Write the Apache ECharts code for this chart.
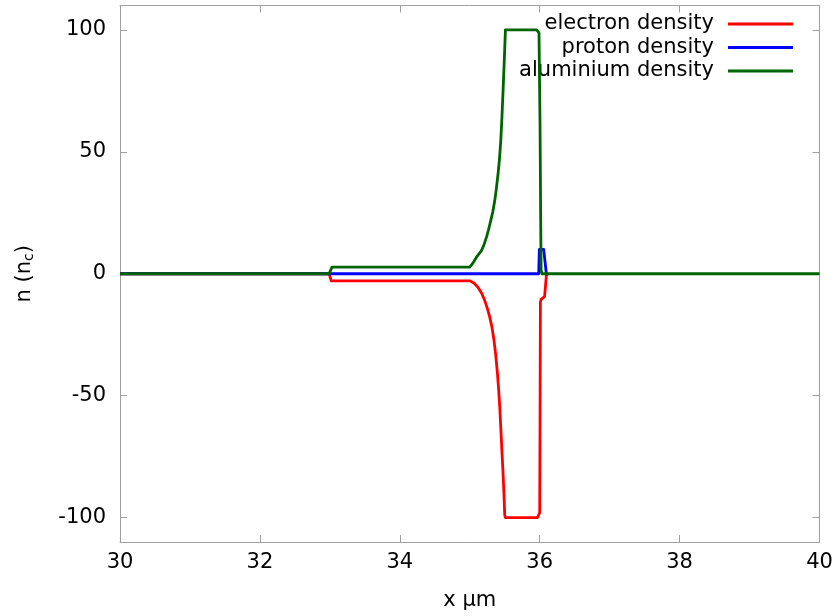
<!DOCTYPE html>
<html>
<head>
<meta charset="utf-8">
<script src="https://cdn.jsdelivr.net/npm/echarts@6/dist/echarts.min.js"></script>
<style>html,body{margin:0;padding:0;background:#fff}#c{width:838px;height:616px}</style>
</head>
<body>
<div id="c"></div>
<script>
var xTicks = [30, 32, 34, 36, 38, 40];
var yTicks = [-100, -50, 0, 50, 100];
var seriesNames = ['electron density', 'proton density', 'aluminium density'];

var electronDensity = [
  [30, 0], [32.99, 0], [33.02, -2.9], [35.0, -2.9], [35.06, -3.8], [35.119, -5.6],
  [35.17, -8.0], [35.214, -11.0], [35.255, -14.5], [35.286, -17.8], [35.318, -22.0],
  [35.347, -27.4], [35.372, -33.5], [35.396, -41.0], [35.413, -47.5], [35.429, -54.6],
  [35.452, -68.2], [35.476, -81.8], [35.49, -91.0], [35.5, -99], [35.51, -100],
  [35.967, -100], [36.0, -98], [36.005, -60], [36.01, -11.5], [36.02, -10.5],
  [36.039, -9.8], [36.07, -9.4], [36.095, -0.8], [36.11, 0]
];
var protonDensity = [
  [30, 0], [35.986, 0], [35.995, 10], [36.057, 10], [36.095, 0], [36.11, 0]
];
var aluminiumDensity = [
  [30, 0], [32.99, 0], [33.03, 2.7], [35.0, 2.7], [35.05, 4.6], [35.096, 6.8],
  [35.167, 9.5], [35.205, 12.0], [35.239, 15.0], [35.27, 18.2], [35.3, 21.8],
  [35.33, 25.5], [35.357, 29.9], [35.38, 34.8], [35.404, 40.8], [35.425, 47.0],
  [35.443, 54.4], [35.46, 64.0], [35.476, 74.8], [35.493, 87.0], [35.51, 100],
  [35.957, 100], [35.99, 98.8], [36.005, 60], [36.014, 22.4], [36.02, 1.6],
  [36.03, 0], [40, 0]
];

var font = 'DejaVu Sans';
var axisColor = '#a0a0a0';
var chart = echarts.init(document.getElementById('c'), null, {renderer: 'canvas'});

function mkX(show, pos) {
  return {
    type: 'value', position: pos, min: 30, max: 40, interval: 2,
    name: show ? 'x \u03bcm' : '', nameLocation: 'middle', nameGap: 48,
    nameTextStyle: {fontFamily: font, fontSize: 21, color: '#000'},
    axisLine: {show: true, onZero: false, lineStyle: {color: axisColor, width: 1}},
    axisTick: {show: true, inside: true, length: 7, lineStyle: {color: axisColor}},
    axisLabel: {show: show, margin: 10, fontFamily: font, fontSize: 21, color: '#000'},
    splitLine: {show: false}
  };
}
function mkY(show, pos) {
  return {
    type: 'value', position: pos, min: -110, max: 110, interval: 10,
    name: show ? 'n (n{sub|c})' : '', nameLocation: 'middle', nameGap: 84, nameRotate: 90,
    nameTextStyle: {fontFamily: font, fontSize: 21, color: '#000',
      rich: {sub: {fontFamily: font, fontSize: 14, color: '#000', padding: [9, 0, 0, 0]}}},
    axisLine: {show: true, onZero: false, lineStyle: {color: axisColor, width: 1}},
    axisTick: {show: true, inside: true, length: 7, customValues: yTicks, lineStyle: {color: axisColor}},
    axisLabel: {show: show, margin: 14, customValues: yTicks, fontFamily: font, fontSize: 21, color: '#000'},
    splitLine: {show: false}
  };
}

var colors = ['#ff0000', '#0000ff', '#006400'];
var datas = [electronDensity, protonDensity, aluminiumDensity];

chart.setOption({
  animation: false,
  backgroundColor: '#fff',
  grid: {left: 120, right: 18.5, top: 5.5, bottom: 71.5, containLabel: false},
  xAxis: [mkX(true, 'bottom'), mkX(false, 'top')],
  yAxis: [mkY(true, 'left'), mkY(false, 'right')],
  legend: {
    orient: 'vertical', align: 'right', right: 45, top: 13.5, padding: 0,
    itemWidth: 65, itemHeight: 3, itemGap: 2.5, icon: 'rect',
    textStyle: {fontFamily: font, fontSize: 21, color: '#000', lineHeight: 21, padding: [0, 9, 0, 0]},
    data: seriesNames
  },
  series: seriesNames.map(function (n, i) {
    return {
      name: n, type: 'line', xAxisIndex: 0, yAxisIndex: 0,
      data: datas[i], showSymbol: false, symbol: 'none', z: 2 + i,
      lineStyle: {color: colors[i], width: 2.8, join: 'round'}, itemStyle: {color: colors[i]}
    };
  })
});
</script>
</body>
</html>
